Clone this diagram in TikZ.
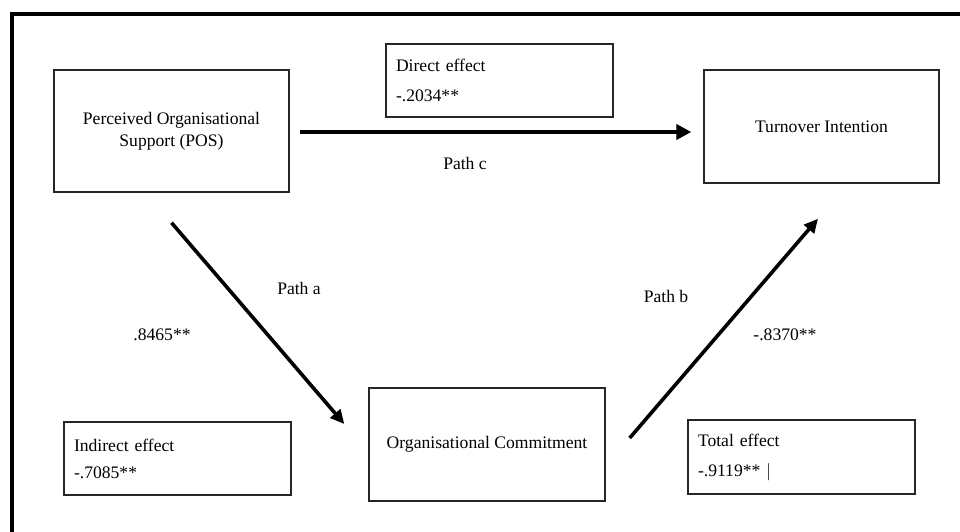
\documentclass[tikz,border=0pt]{standalone}
\usepackage{fontspec}
\setmainfont{Liberation Serif}
\usetikzlibrary{arrows.meta,positioning}
\tikzset{%
   var/.style={
      draw=black!85,
      line width=1.4pt,
      rectangle,
      align=center,
      minimum width=235pt
   },
   eff/.style={
      draw=black!85,
      line width=1.4pt,
      rectangle,
      align=left,
      text width=207pt,
      inner xsep=10pt,
      minimum height=73pt
   },
   lbl/.style={
      inner sep=0pt
   },
   pth/.style={
      line width=3.8pt,
      -{Triangle[length=15pt,width=15pt]}
   },
   pthd/.style={
      line width=3.6pt,
      -{Triangle[length=14pt,width=13pt]}
   },
}

\begin{document}
\begin{tikzpicture}[x=1pt, y=-1pt, font=\fontsize{17.6}{22}\selectfont]
         \useasboundingbox (0,0) rectangle (960,532);
         \draw[line width=4pt] (11.5,532) -- (11.5,14) -- (960,14);
         % variables
         \node[var, minimum height=122pt] (pos) at (171.5,131)
            {Perceived Organisational\\Support (POS)};
         \node[var, minimum height=113pt] (ti) at (821.5,126.5) {Turnover Intention};
         \node[var, minimum width=236pt, minimum height=113pt] (oc) at (487,444.5)
            {Organisational Commitment};
         % effects
         \node[eff] (de) at (499.5,80.5) {Direct effect\\[8pt]-.2034**};
         \node[eff] (ie) at (177.5,458.5) {Indirect effect\\[5pt]-.7085**\\[-6pt]};
         \node[eff, minimum height=74pt] (te) at (801.5,457) {Total effect\\[8pt]-.9119** $\vert$};
         % path ends
         \coordinate (c0) at ([shift={(10,1)}]pos.east);
         \coordinate (c1) at ([shift={(-12,5.5)}]ti.west);
         \coordinate (a0) at ([shift={(0,30)}]pos.south);
         \coordinate (a1) at ([shift={(-24,-20.5)}]oc.west);
         \coordinate (b0) at ([shift={(24,-6.5)}]oc.east);
         \coordinate (b1) at ([shift={(-3.5,35)}]ti.south);
         \draw[pth] (c0) -- (c1);
         \draw[pthd] (a0) -- (a1);
         \draw[pthd] (b0) -- (b1);
         % labels
         \node[lbl] (pc) at (465,163) {Path c};
         \node[lbl] (pa) at (299,288) {Path a};
         \node[lbl] (va) at (162,335) {.8465**};
         \node[lbl] (pb) at (666,296) {Path b};
         \node[lbl] (vb) at (785,335) {-.8370**};
      \end{tikzpicture}
\end{document}
